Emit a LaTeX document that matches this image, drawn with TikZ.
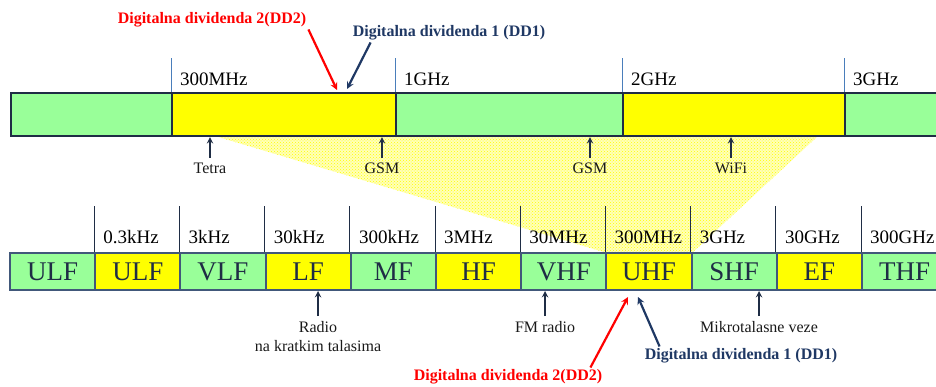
\documentclass[tikz,border=0pt]{standalone}
\usepackage{fontspec}
\setmainfont{Liberation Serif}
\usetikzlibrary{patterns}
\definecolor{bandgreen}{HTML}{99FF99}
\definecolor{bandyellow}{HTML}{FFFF00}
\definecolor{navy}{HTML}{1F2D45}
\definecolor{ddblue}{HTML}{1F3864}
\definecolor{tickblue}{HTML}{4A7EBB}
\definecolor{cellline}{HTML}{41587A}
\tikzset{
  seg/.style={draw=navy, line width=2.2pt, minimum height=43pt, inner sep=0pt},
  cell/.style={draw=cellline, line width=2pt, minimum width=85.2pt, minimum height=37pt, inner sep=0pt, text=navy, font=\fontsize{27}{27}\selectfont},
  freq/.style={anchor=west, inner sep=0pt, font=\fontsize{19}{19}\selectfont},
  usage/.style={anchor=north, inner sep=0pt, align=center, text=black!90, font=\fontsize{16}{19}\selectfont},
  usearrow/.style={->, navy, line width=1.8pt, shorten <=5pt},
  dd/.style={inner sep=2pt, font=\bfseries\fontsize{16}{16}\selectfont},
  ddarrow/.style={->, line width=2.2pt},
}
\begin{document}
\begin{tikzpicture}[>=stealth, x=1pt, y=-1pt]
\useasboundingbox (0,0) rectangle (936,387);

\fill[bandyellow!28] (215,136) -- (818,136) -- (692,253) -- (607,253) -- cycle;
\fill[pattern=crosshatch dots, pattern color=bandyellow] (215,136) -- (818,136) -- (692,253) -- (607,253) -- cycle;

% upper band, 300MHz to 3GHz
\node[seg, fill=bandgreen, minimum width=161pt] (s1) at (91.5,114.5) {};
\node[seg, fill=bandyellow, minimum width=224pt] (s2) at (284,114.5) {};
\node[seg, fill=bandgreen, minimum width=227pt] (s3) at (509.5,114.5) {};
\node[seg, fill=bandyellow, minimum width=222pt] (s4) at (734,114.5) {};
\node[seg, fill=bandgreen, minimum width=115pt] (s5) at (902.5,114.5) {};

\foreach \f [count=\i from 2] in {300MHz, 1GHz, 2GHz, 3GHz}
{
    \draw[tickblue, line width=0.8pt] (s\i.north west) -- ++(0,-34);
    \node[freq] (u\i) at ([xshift=9pt, yshift=13pt]s\i.north west) {\f};
}

\node[usage] (tetra) at (210,163) {Tetra};
\node[usage] (gsma) at (382,163) {GSM};
\node[usage] (gsmb) at (590,163) {GSM};
\node[usage] (wifi) at (731,163) {WiFi};
\draw[usearrow] (tetra) -- (tetra |- s2.south);
\draw[usearrow] (gsma) -- (gsma |- s2.south);
\draw[usearrow] (gsmb) -- (gsmb |- s3.south);
\draw[usearrow] (wifi) -- (wifi |- s4.south);

% lower band, the whole spectrum
\foreach \name/\col [count=\i from 0] in {ULF/bandgreen, ULF/bandyellow, VLF/bandgreen, LF/bandyellow, MF/bandgreen, HF/bandyellow, VHF/bandgreen, UHF/bandyellow, SHF/bandgreen, EF/bandyellow, THF/bandgreen}
{
    \node[cell, fill=\col] (c\i) at ({52.6+85.2*\i}, 271.5) {\name};
}
\foreach \f [count=\i] in {0.3kHz, 3kHz, 30kHz, 300kHz, 3MHz, 30MHz, 300MHz, 3GHz, 30GHz, 300GHz}
{
    \draw[navy, line width=1pt] (c\i.north west) -- ++(0,-46);
    \node[freq] (t\i) at ([xshift=9pt, yshift=15pt]c\i.north west) {\f};
}

\node[usage] (radio) at (318,321) {Radio\\na kratkim talasima};
\node[usage] (fm) at (545,321) {FM radio};
\node[usage] (micro) at (759,321) {Mikrotalasne veze};
\draw[usearrow] (radio) -- (radio |- c3.south);
\draw[usearrow] (fm) -- (fm |- c6.south);
\draw[usearrow] (micro) -- (micro |- c8.south);

% digital dividends
\node[dd, red] (dd2a) at (212,20) {Digitalna dividenda 2(DD2)};
\node[dd, ddblue] (dd1a) at (449,33) {Digitalna dividenda 1 (DD1)};
\node[dd, red] (dd2b) at (508,377) {Digitalna dividenda 2(DD2)};
\node[dd, ddblue] (dd1b) at (741,356) {Digitalna dividenda 1 (DD1)};
\coordinate (dd2a tip) at (337,90);
\coordinate (dd1a tip) at (347,89);
\coordinate (dd2b tip) at (628,297);
\coordinate (dd1b tip) at (638,297);
\draw[ddarrow, red] (dd2a.south east) -- (dd2a tip);
\draw[ddarrow, ddblue] ([xshift=20pt]dd1a.south west) -- (dd1a tip);
\draw[ddarrow, red] ([xshift=-14pt]dd2b.north east) -- (dd2b tip);
\draw[ddarrow, ddblue] ([xshift=17pt]dd1b.north west) -- (dd1b tip);

\end{tikzpicture}
\end{document}
